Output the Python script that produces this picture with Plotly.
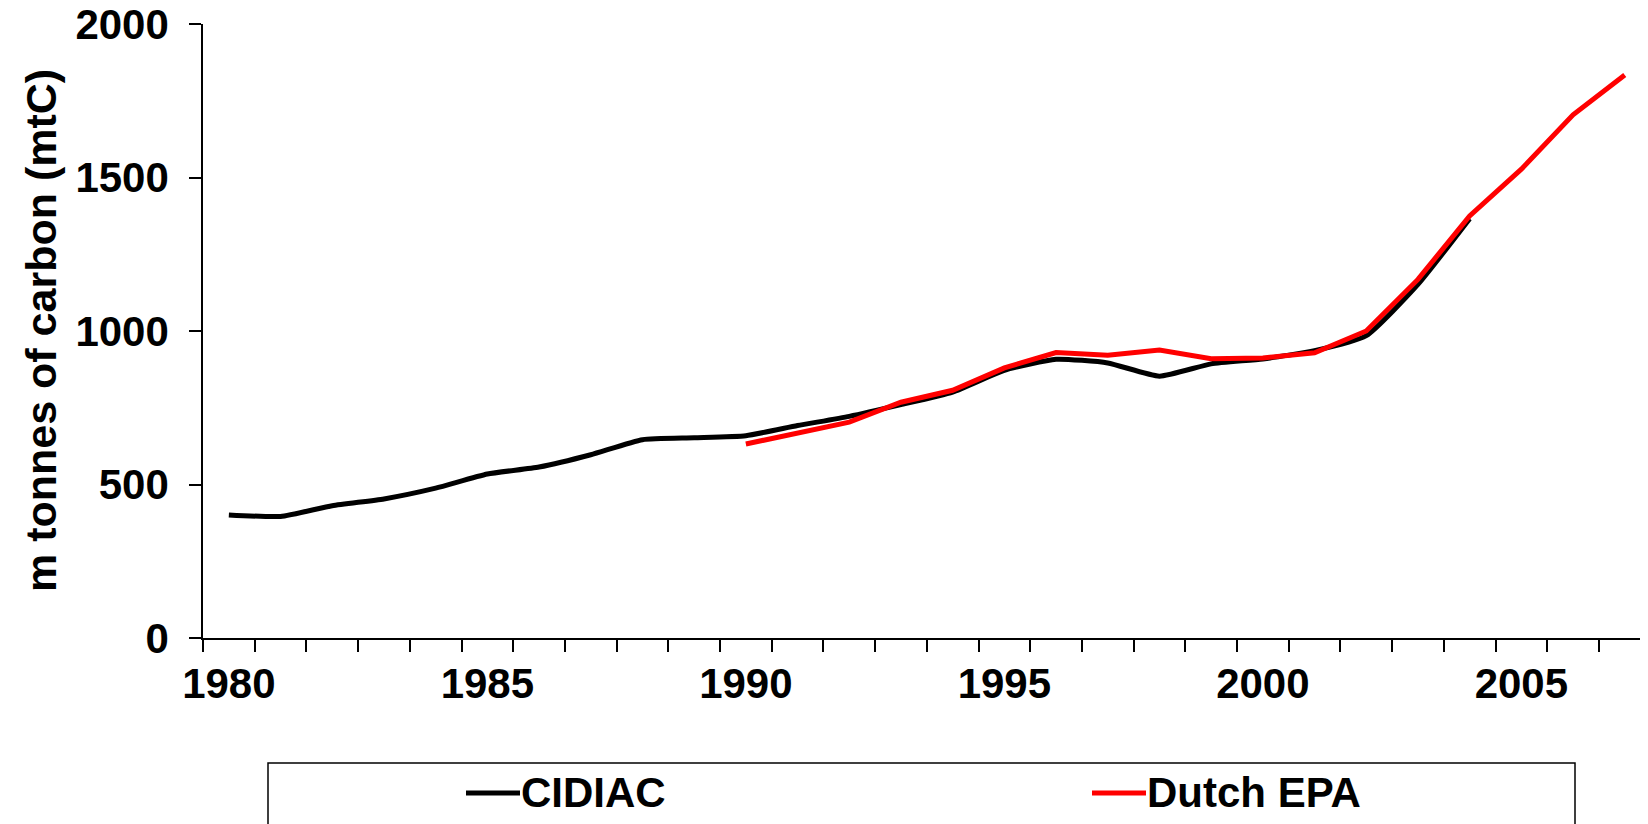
import plotly.graph_objects as go

# ---- data ----
cidiac_years = list(range(1980, 2005))
cidiac_values = [401, 396, 431, 453, 488, 534, 557, 597, 646, 652,
                 659, 692, 722, 760, 801, 872, 908, 896, 853, 893,
                 909, 936, 985, 1152, 1366]

epa_years = list(range(1990, 2008))
epa_values = [632, 666, 703, 768, 807, 880, 930, 921, 938, 910,
              912, 929, 1000, 1168, 1375, 1527, 1704, 1834]

x_label_years = [1980, 1985, 1990, 1995, 2000, 2005]
y_ticks = [0, 500, 1000, 1500, 2000]

series_names = ["CIDIAC", "Dutch EPA"]
series_colors = ["#000000", "#FF0000"]

# ---- layout geometry (pixels, in window coordinates) ----
W, H = 1648, 824
OFF = 8  # page body margin in the browser window
PLOT_LEFT, PLOT_RIGHT, PLOT_TOP, PLOT_BOTTOM = 203, 1648, 24, 638
ML = PLOT_LEFT - OFF
MT = PLOT_TOP - OFF
MR = W - (PLOT_RIGHT - OFF)
MB = H - (PLOT_BOTTOM - OFF)
PW = PLOT_RIGHT - PLOT_LEFT
PH = PLOT_BOTTOM - PLOT_TOP

FONT = "Liberation Sans, Arial, Helvetica, sans-serif"
FS = 42


def px_x(px):
    return (px - PLOT_LEFT) / PW


def px_y(py):
    return (PLOT_BOTTOM - py) / PH


fig = go.Figure()
fig.add_trace(go.Scatter(
    x=cidiac_years, y=cidiac_values, name=series_names[0], mode="lines",
    line=dict(color=series_colors[0], width=5, shape="spline", smoothing=0.5),
))
fig.add_trace(go.Scatter(
    x=epa_years, y=epa_values, name=series_names[1], mode="lines",
    line=dict(color=series_colors[1], width=5),
))

first_year = cidiac_years[0]
fig.update_xaxes(
    automargin=False,
    range=[first_year - 0.5, first_year - 0.5 + PW / 51.7],
    showline=True, linecolor="black", linewidth=1.5,
    showgrid=False, zeroline=False,
    tickmode="array", tickvals=x_label_years,
    ticktext=[str(v) for v in x_label_years],
    ticks="", ticklabelstandoff=8, ticklabeloverflow="allow",
    tickfont=dict(family=FONT, size=FS, color="black", weight="bold"),
    minor=dict(tick0=first_year - 0.5, dtick=1, ticks="outside",
               ticklen=12, tickwidth=1.5, tickcolor="black", showgrid=False),
)
fig.update_yaxes(
    automargin=False,
    range=[0, 2000],
    showline=True, linecolor="black", linewidth=1.5,
    showgrid=False, zeroline=False,
    tickmode="array", tickvals=y_ticks,
    ticks="outside", ticklen=12, tickwidth=1.5, tickcolor="black",
    ticklabelstandoff=12, ticklabeloverflow="allow",
    tickfont=dict(family=FONT, size=FS, color="black", weight="bold"),
)

annotations = [
    dict(text="m tonnes of carbon (mtC)", textangle=-90,
         xref="paper", yref="paper", x=px_x(41), y=0.5,
         xanchor="center", yanchor="middle", showarrow=False,
         font=dict(family=FONT, size=43, color="black", weight="bold")),
]

# legend box drawn manually (box runs off the bottom edge as in the reference)
shapes = [
    dict(type="rect", xref="paper", yref="paper",
         x0=px_x(268), x1=px_x(1575), y0=px_y(763), y1=px_y(880),
         line=dict(color="black", width=1.5), fillcolor="white", layer="above"),
]
legend_line_x = [466, 1092]
legend_y = 793
for name, color, lx in zip(series_names, series_colors, legend_line_x):
    shapes.append(dict(type="line", xref="paper", yref="paper",
                       x0=px_x(lx), x1=px_x(lx + 54),
                       y0=px_y(legend_y), y1=px_y(legend_y),
                       line=dict(color=color, width=5)))
    annotations.append(dict(text=name, xref="paper", yref="paper",
                            x=px_x(lx + 53), y=px_y(legend_y),
                            xanchor="left", yanchor="middle", showarrow=False,
                            font=dict(family=FONT, size=FS, color="black",
                                      weight="bold")))

fig.update_layout(
    width=W, height=H,
    margin=dict(l=ML, r=MR, t=MT, b=MB, pad=0),
    paper_bgcolor="white", plot_bgcolor="white",
    showlegend=False,
    annotations=annotations, shapes=shapes,
)

fig.write_html("out.html")
